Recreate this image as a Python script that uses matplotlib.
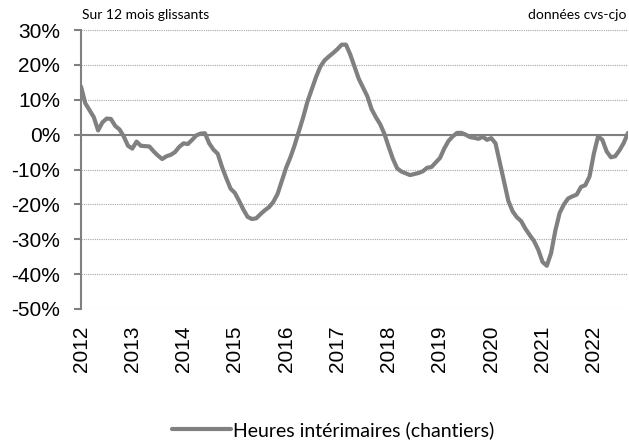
import matplotlib.pyplot as plt
import numpy as np

# glissement annuel mensuel, janv. 2012 -> sept. 2022 (en %)
values = [
    13.8, 9.0, 7.0, 5.0, 1.2, 3.5, 4.6, 4.5, 2.5, 1.5, -0.5, -3.2,
    -4.0, -2.0, -3.2, -3.3, -3.4, -4.8, -6.0, -7.0, -6.2, -5.8, -5.0, -3.5,
    -2.5, -2.7, -1.5, -0.2, 0.3, 0.4, -2.5, -4.3, -5.5, -9.3, -12.5, -15.5,
    -16.7, -19.0, -21.5, -23.6, -24.2, -24.0, -22.8, -21.7, -20.8, -19.3, -17.0, -13.2,
    -9.5, -6.5, -3.0, 1.0, 5.0, 9.5, 13.0, 16.5, 19.5, 21.3, 22.4, 23.4,
    24.5, 25.8, 25.8, 23.0, 19.5, 16.0, 13.5, 11.0, 7.3, 5.0, 3.0, 0.2,
    -3.5, -7.0, -9.7, -10.6, -11.1, -11.6, -11.3, -11.0, -10.5, -9.5, -9.3, -8.0,
    -6.7, -4.0, -1.8, -0.5, 0.5, 0.5, 0.0, -0.7, -0.9, -1.2, -0.6, -1.5,
    -1.0, -2.5, -8.0, -13.5, -19.0, -22.0, -23.7, -24.8, -27.0, -28.8, -30.5, -33.0,
    -36.5, -37.6, -34.0, -27.5, -22.5, -20.0, -18.3, -17.7, -17.2, -15.0, -14.5, -12.0,
    -5.5, -0.5, -1.5, -4.8, -6.5, -6.2, -4.5, -2.4, 0.5,
]
years = ['2012', '2013', '2014', '2015', '2016', '2017',
         '2018', '2019', '2020', '2021', '2022']
y_ticks = [30, 20, 10, 0, -10, -20, -30, -40, -50]

gray = '#808080'
plt.rcParams['font.family'] = ['Liberation Sans', 'DejaVu Sans']

fig = plt.figure(figsize=(6.29, 4.43), dpi=100)
ax = fig.add_axes([81 / 629, 1 - 309 / 443, 547 / 629, 279 / 443])

x = np.arange(len(values))
ax.plot(x, values, color=gray, lw=3, solid_capstyle='round',
        label='Heures intérimaires (chantiers)', zorder=3)
ax.axhline(0, color=gray, lw=1.5, zorder=2)

ax.set_xlim(0, len(values) - 1)
ax.set_ylim(-50, 30)
ax.set_yticks(y_ticks)
ax.set_yticklabels([f'{v}%' for v in y_ticks], fontsize=15)
ax.set_xticks(np.arange(len(years)) * 12)
ax.set_xticklabels(years, rotation=90, fontsize=15)

ax.yaxis.grid(True, linestyle=(0, (1, 1)), color='#a6a6a6', lw=0.8)
ax.set_axisbelow(True)
for s in ['top', 'right', 'bottom']:
    ax.spines[s].set_visible(False)
ax.spines['left'].set_color(gray)
ax.spines['left'].set_linewidth(1.5)
ax.tick_params(axis='y', length=5, width=1.5, color=gray, pad=10)
ax.tick_params(axis='x', length=0, pad=12)

fig.text(82 / 629, 1 - 15 / 443, 'Sur 12 mois glissants', fontsize=10,
         family='Lato', va='center', ha='left')
fig.text(627 / 629, 1 - 15 / 443, 'données cvs-cjo', fontsize=10,
         family='Lato', va='center', ha='right')

fig.legend(loc='center', bbox_to_anchor=(333 / 629, 1 - 430 / 443),
           frameon=False, prop={'family': 'Lato', 'size': 14},
           handlelength=3, handletextpad=0.1)

fig.savefig('out.png', dpi=100)
